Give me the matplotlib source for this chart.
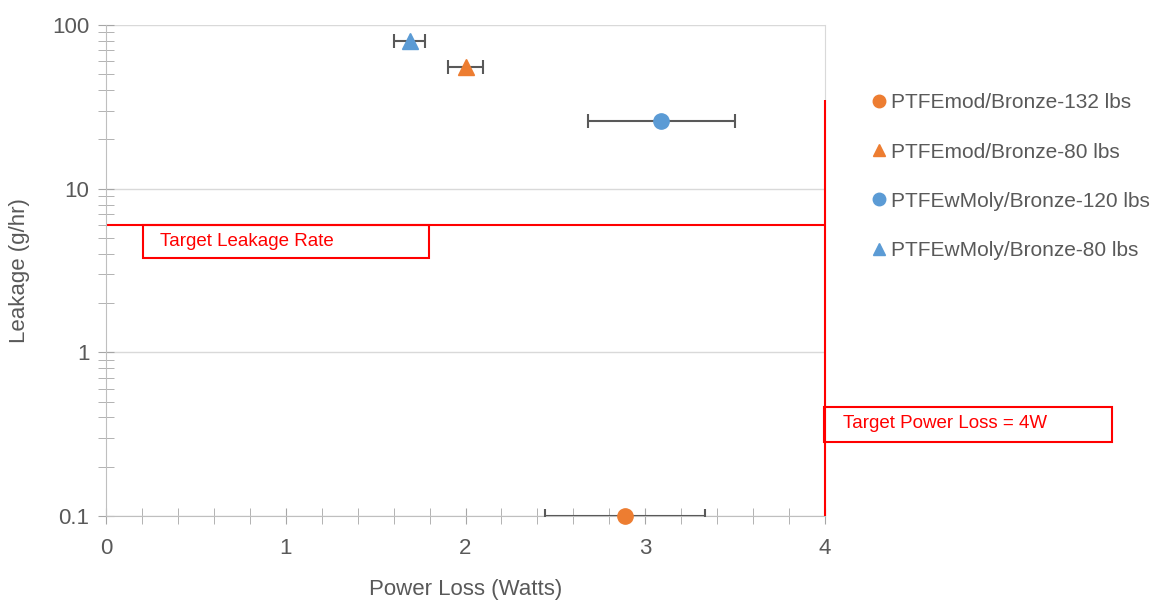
import matplotlib.pyplot as plt
from matplotlib.patches import Rectangle
from matplotlib.ticker import MultipleLocator, LogLocator, FixedLocator, FixedFormatter
from matplotlib.lines import Line2D

plt.rcParams['font.family'] = ['Liberation Sans', 'DejaVu Sans']

# data
series = ['PTFEmod/Bronze-132 lbs', 'PTFEmod/Bronze-80 lbs',
          'PTFEwMoly/Bronze-120 lbs', 'PTFEwMoly/Bronze-80 lbs']
power = [2.89, 2.0, 3.09, 1.69]
power_err = [0.445, 0.10, 0.41, 0.085]
leakage = [0.1, 55, 26, 80]
colors = ['#ED7D31', '#ED7D31', '#5B9BD5', '#5B9BD5']
markers = ['o', '^', 'o', '^']

target_leak = 6
target_power = 4
target_power_top = 35

fig = plt.figure(figsize=(11.68, 6), dpi=100)
ax = fig.add_axes([106/1168, 1-516/600, 719/1168, 491/600])

for i in range(len(series)):
    ax.errorbar(power[i], leakage[i], xerr=power_err[i], fmt='none', ecolor='#595959',
                elinewidth=1.5, capsize=5, capthick=1.5, zorder=3)
    ax.plot(power[i], leakage[i], marker=markers[i], color=colors[i], markersize=11,
            linestyle='none', zorder=4, clip_on=False)

ax.set_yscale('log')
ax.set_xlim(0, 4)
ax.set_ylim(0.1, 100)

ax.hlines(target_leak, 0, 4, color='red', linewidth=1.5, zorder=2)
ax.vlines(target_power, 0.1, target_power_top, color='red', linewidth=1.5, zorder=5, clip_on=False)

# axes styling
ax.spines['top'].set_visible(False)
ax.spines['right'].set_color('#D9D9D9')
ax.spines['left'].set_color('#BFBFBF')
ax.spines['bottom'].set_color('#BFBFBF')
ax.yaxis.grid(True, which='major', color='#D9D9D9', linewidth=1)
ax.set_axisbelow(True)

ax.xaxis.set_major_locator(MultipleLocator(1))
ax.xaxis.set_minor_locator(MultipleLocator(0.2))
ax.yaxis.set_major_locator(FixedLocator([0.1, 1, 10, 100]))
ax.yaxis.set_major_formatter(FixedFormatter(['0.1', '1', '10', '100']))
ax.yaxis.set_minor_locator(LogLocator(base=10, subs=range(2, 10)))
ax.yaxis.set_minor_formatter(plt.NullFormatter())
ax.tick_params(axis='both', which='both', direction='inout', color='#A6A6A6',
               labelcolor='#595959', labelsize=16)
ax.tick_params(axis='both', which='both', length=12)
ax.tick_params(axis='x', pad=10)
ax.tick_params(axis='y', pad=6)

ax.set_xlabel('Power Loss (Watts)', color='#595959', fontsize=16, labelpad=14)
ax.set_ylabel('Leakage (g/hr)', color='#595959', fontsize=16, labelpad=16)

# annotation boxes
W, H = 1168, 600
fig.patches.append(Rectangle((143/W, 1-258/H), (429-143)/W, 33/H, transform=fig.transFigure,
                             fill=False, edgecolor='red', linewidth=1.5))
fig.text(160/W, 1-242/H, 'Target Leakage Rate', color='red', fontsize=13.5, va='center')
fig.patches.append(Rectangle((824/W, 1-442/H), (1112-824)/W, 35/H, transform=fig.transFigure,
                             fill=False, edgecolor='red', linewidth=1.5))
fig.text(843/W, 1-424/H, 'Target Power Loss = 4W', color='red', fontsize=13.5, va='center')

handles = [Line2D([], [], marker=markers[i], color=colors[i], linestyle='none', markersize=9)
           for i in range(len(series))]
leg = fig.legend(handles, series, loc='upper left', bbox_to_anchor=(860/W, 1-85/H),
                 frameon=False, fontsize=15, labelspacing=1.45, handletextpad=0.1,
                 handlelength=1.0, borderaxespad=0)
for t in leg.get_texts():
    t.set_color('#595959')

fig.savefig('out.png', dpi=100)
